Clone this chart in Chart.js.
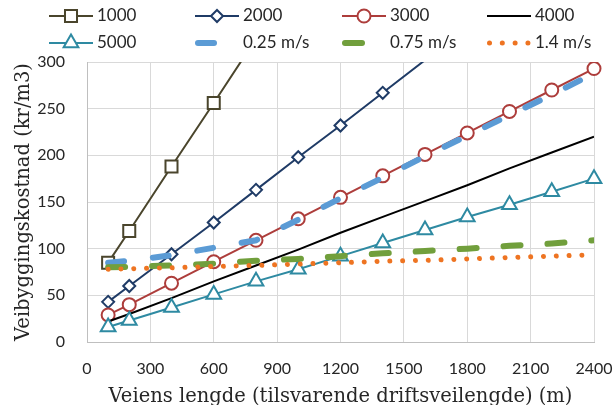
<!DOCTYPE html>
<html>
<head>
<meta charset="utf-8">
<script src="https://cdn.jsdelivr.net/npm/chart.js@4.4.0/dist/chart.umd.min.js"></script>
<style>
  html, body { margin: 0; padding: 0; background: #fff; }
</style>
</head>
<body>
<canvas id="myChart" width="615" height="405"></canvas>
<script>
// road length (m)
var lengths = [100, 200, 400, 600, 800, 1000, 1200, 1400, 1600, 1800, 2000, 2200, 2400];

var names = ['1000', '2000', '3000', '4000', '5000', '0.25 m/s', '0.75 m/s', '1.4 m/s'];

// cost (kr/m3)
var cost1000 = [85, 119, 188, 256, 325];
var cost2000 = [43, 60, 94, 128, 163, 198, 232, 267, 302];
var cost3000 = [29, 40, 63, 86, 109, 132, 155, 178, 201, 224, 247, 270, 293];
var cost4000 = [22, 30, 47, 65, 82, 99, 117, 134, 151, 168, 186, 203, 220];
var cost5000 = [16, 23, 37, 51, 65, 78, 92, 106, 120, 134, 147, 161, 175];
var speed025 = [85, 87, 93, 101, 109, 131, 154, 176, 199, 221, 243, 265, 288];
var speed075 = [80, 80.5, 82, 84, 87, 89, 92, 95, 97.5, 100, 103, 105.5, 109];
var speed14 = [78, 78.5, 79.5, 81, 82, 83.5, 85, 86.5, 87.5, 89, 90.5, 92, 93.5];

var xTitle = 'Veiens lengde (tilsvarende driftsveilengde) (m)';
var yTitle = 'Veibyggingskostnad (kr/m3)';

function pts(vals) {
    return vals.map(function (v, i) { return { x: lengths[i], y: v }; });
}

// hide markers that fall above the plot, like excel does
function hideOutside(r) {
    return function (c) { return c.raw && c.raw.y > 300 ? 0 : r; };
}

function markerSeries(name, vals, color, style, r) {
    return {
        label: name, data: pts(vals),
        borderColor: color, borderWidth: 2,
        pointStyle: style, pointRadius: hideOutside(r),
        pointBorderWidth: 2, pointBorderColor: color,
        pointBackgroundColor: '#fff', backgroundColor: '#fff',
        clip: { left: false, right: false, top: 0, bottom: false }
    };
}

function dashSeries(name, vals, color, width, dash) {
    return {
        label: name, data: pts(vals),
        borderColor: color, borderWidth: width,
        borderDash: dash, borderCapStyle: 'round',
        pointRadius: 0
    };
}

var datasets = [
    markerSeries(names[0], cost1000, '#4a452c', 'rect', 8.5),
    markerSeries(names[1], cost2000, '#1f3b66', 'rectRot', 6),
    markerSeries(names[2], cost3000, '#ad3d3b', 'circle', 6.5),
    { label: names[3], data: pts(cost4000), borderColor: '#000', borderWidth: 2, pointRadius: 0 },
    markerSeries(names[4], cost5000, '#2e8aa2', 'triangle', 8.5),
    dashSeries(names[5], speed025, '#5b9bd5', 6, [16, 29]),
    dashSeries(names[6], speed075, '#719f3c', 6, [17, 27]),
    dashSeries(names[7], speed14, '#ee7422', 5, [0.01, 12.8])
];
// later series on top, as in the original
datasets.forEach(function (d, i) { d.order = -i; });

// excel-like legend in 4 columns
var legendCols = [49, 195, 342, 487];
var legendRows = [16, 43];
var gridLegend = {
    id: 'gridLegend',
    afterDraw: function (chart) {
        var ctx = chart.ctx;
        chart.data.datasets.forEach(function (ds, i) {
            var x = legendCols[i % 4], y = legendRows[Math.floor(i / 4)];
            ctx.save();
            ctx.strokeStyle = ds.borderColor;
            ctx.lineWidth = ds.borderWidth;
            ctx.lineCap = ds.borderCapStyle || 'butt';
            ctx.setLineDash(ds.borderDash || []);
            var off = ds.borderCapStyle == 'round' ? ds.borderWidth / 2 : 0;
            ctx.beginPath();
            ctx.moveTo(x + off, y);
            ctx.lineTo(x + 44, y);
            ctx.stroke();
            var r = typeof ds.pointRadius === 'function' ? ds.pointRadius({ raw: { y: 0 } }) : ds.pointRadius;
            if (r > 0) {
                ctx.setLineDash([]);
                ctx.fillStyle = ds.pointBackgroundColor;
                ctx.strokeStyle = ds.pointBorderColor;
                ctx.lineWidth = ds.pointBorderWidth;
                Chart.helpers.drawPoint(ctx, { pointStyle: ds.pointStyle, radius: r, rotation: 0, borderWidth: ds.pointBorderWidth }, x + 22, y);
            }
            ctx.fillStyle = '#262626';
            ctx.font = '17px Lato';
            ctx.textBaseline = 'middle';
            ctx.textAlign = 'left';
            ctx.fillText(ds.label, x + 48, y);
            ctx.restore();
        });
    }
};

var ctx = document.getElementById('myChart').getContext('2d');
var chart = new Chart(ctx, {
    type: 'line',
    data: { datasets: datasets },
    plugins: [gridLegend],
    options: {
        responsive: false,
        animation: false,
        events: [],
        layout: { padding: { top: 62, right: 21, left: 0, bottom: 0 } },
        plugins: {
            legend: { display: false },
            tooltip: { enabled: false }
        },
        scales: {
            x: {
                type: 'linear', min: 0, max: 2400,
                ticks: { stepSize: 300, padding: 17, color: '#262626', font: { family: 'Lato', size: 16 },
                         callback: function (v) { return String(v); } },
                grid: { color: '#d9d9d9', drawTicks: false },
                border: { color: '#bfbfbf' },
                title: { display: true, text: xTitle, color: '#262626', padding: 0,
                         font: { family: 'DejaVu Serif', size: 19.5, lineHeight: 0.78 } },
                afterFit: function (s) { s.height = 63; s.paddingLeft = 0; s.paddingRight = 0; }
            },
            y: {
                min: 0, max: 300,
                ticks: { stepSize: 50, padding: 22, color: '#262626', font: { family: 'Lato', size: 16 } },
                grid: { color: '#d9d9d9', drawTicks: false },
                border: { color: '#bfbfbf' },
                title: { display: true, text: yTitle, color: '#262626', padding: { top: 12, bottom: 0 },
                         font: { family: 'DejaVu Serif', size: 19.5 } },
                afterFit: function (s) { s.width = 87; }
            }
        }
    }
});
</script>
</body>
</html>
